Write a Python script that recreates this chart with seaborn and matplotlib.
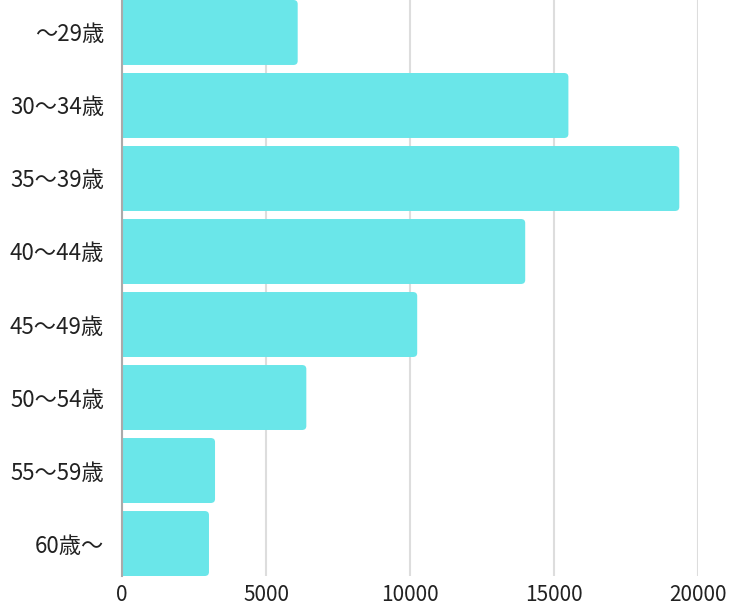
import matplotlib
matplotlib.use("Agg")
import matplotlib.pyplot as plt
from matplotlib.patches import FancyBboxPatch
import seaborn as sns
import pandas as pd

ages = ["～29歳", "30～34歳", "35～39歳", "40～44歳", "45～49歳", "50～54歳", "55～59歳", "60歳～"]
counts = [6100, 15500, 19350, 14000, 10250, 6400, 3230, 3020]
xticks = [0, 5000, 10000, 15000, 20000]

df = pd.DataFrame({"age": ages, "count": counts})

sns.set_style("white")
plt.rcParams["font.family"] = ["Noto Sans CJK JP", "DejaVu Sans"]

fig = plt.figure(figsize=(7.35, 6.08), dpi=100)
ax = fig.add_axes([122 / 735, 1 - 576 / 608, (698 - 122) / 735, 576 / 608])

sns.barplot(data=df, x="count", y="age", color="#6ae6e9", saturation=1,
            width=0.89, ax=ax, zorder=3)

# round the right-hand corners of the bars (left end hidden by the axis clip)
r = 150
for p in list(ax.patches):
    x0, y0, w, h = p.get_x(), p.get_y(), p.get_width(), p.get_height()
    fb = FancyBboxPatch((x0 - 2 * r, y0), w + 2 * r, h,
                        boxstyle=f"round,pad=0,rounding_size={r}",
                        mutation_aspect=0.055 / r,
                        facecolor=p.get_facecolor(), edgecolor="none", zorder=3)
    p.remove()
    ax.add_patch(fb)

ax.set_xlim(0, 20000)
ax.set_ylim(7.445, -0.445)
ax.set_xticks(xticks)
ax.set_xticklabels([str(t) for t in xticks])
ax.grid(axis="x", color="#dddddd", linewidth=1.5, zorder=0)
ax.set_axisbelow(True)
for s in ["top", "right", "bottom"]:
    ax.spines[s].set_visible(False)
ax.spines["left"].set_color("#aaaaaa")
ax.spines["left"].set_linewidth(1.5)
ax.spines["left"].set_zorder(4)
ax.tick_params(axis="both", length=0, colors="#222222")
ax.tick_params(axis="y", pad=13, labelsize=16)
ax.tick_params(axis="x", pad=6, labelsize=15)
ax.set_xlabel("")
ax.set_ylabel("")

plt.savefig("out.png", dpi=100)
